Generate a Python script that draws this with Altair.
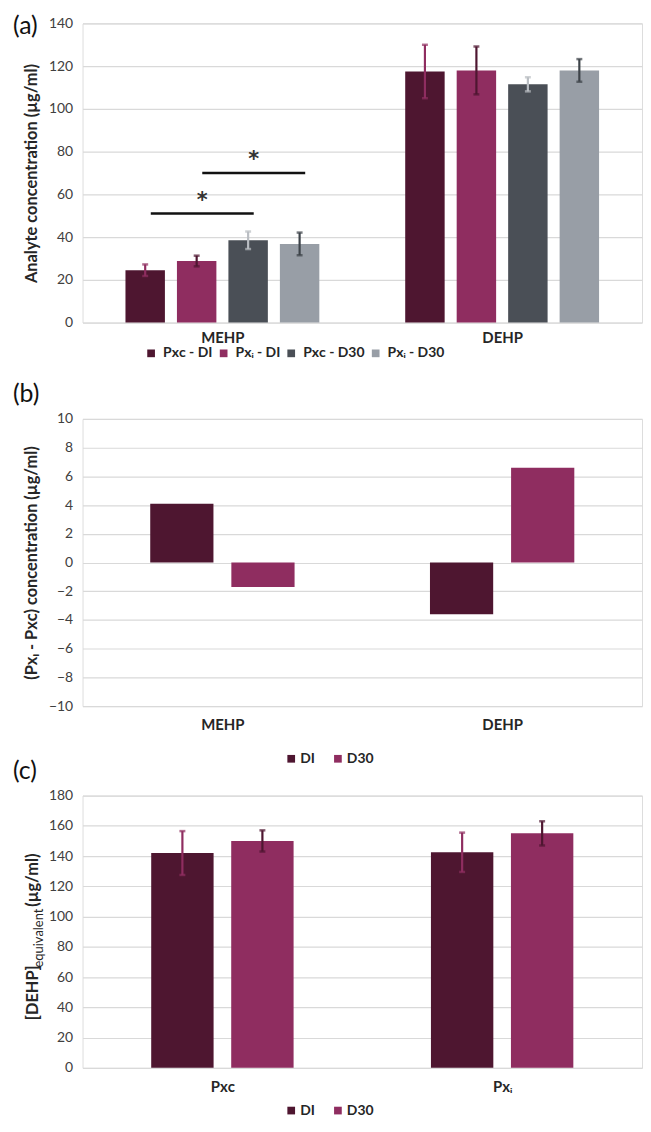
import altair as alt
import pandas as pd

FONT = "Lato"
TXT = "#262626"
GRID = "#d9d9d9"

# ---------------- Panel (a) data ----------------
analytes = ["MEHP", "DEHP"]
series_a = ["Pxᴄ - DI", "Pxᵢ - DI", "Pxᴄ - D30", "Pxᵢ - D30"]
mehp_mean = [24.5, 28.8, 38.5, 36.8]
mehp_err = [2.7, 2.5, 4.1, 5.3]
dehp_mean = [117.5, 118.0, 111.5, 118.0]
dehp_err = [12.5, 11.2, 3.3, 5.3]
colors_a = ["#4e1630", "#8f2d60", "#4a4f56", "#989ea6"]
errcolors_a = ["#8f2d60", "#4e1630", "#b9bdc2", "#3d4349"]
# significance brackets (MEHP group): from series index -> to series index
sig_from = [0, 1]
sig_to = [2, 3]
sig_y = [51, 70]
sig_text = ["*", "*"]

# ---------------- Panel (b) data ----------------
days = ["DI", "D30"]
diff_mehp = [4.1, -1.7]
diff_dehp = [-3.6, 6.6]
colors_b = ["#4e1630", "#8f2d60"]

# ---------------- Panel (c) data ----------------
groups_c = ["Pxᴄ", "Pxᵢ"]
c_di = [142.0, 142.5]
c_di_err = [14.5, 13.0]
c_d30 = [150.0, 155.0]
c_d30_err = [7.0, 8.0]
errcolors_c = ["#8f2d60", "#4e1630"]

W = 563
H_A, H_B, H_C = 301, 289, 274


def x_axis(labels, pad):
    return alt.Axis(values=[0.5, 1.5],
                    labelExpr=f"datum.value < 1 ? '{labels[0]}' : '{labels[1]}'",
                    ticks=False, domain=False, grid=False, labelFont=FONT,
                    labelFontSize=15, labelFontWeight="bold", labelColor=TXT,
                    labelPadding=pad)


def y_axis(values, title):
    return alt.Axis(values=values, grid=True, gridColor=GRID, gridWidth=1.2,
                    domain=False, ticks=False, labelFont=FONT, labelFontSize=14,
                    labelColor="#404040", labelPadding=10,
                    title=title, titleFont=FONT, titleFontSize=16.5,
                    titleFontWeight="bold", titleColor=TXT, titlePadding=9)


def legend(x, y, pad, off):
    return alt.Legend(orient="none", legendX=x, legendY=y,
                      direction="horizontal", title=None, symbolType="square",
                      symbolSize=60, symbolStrokeWidth=0, labelFont=FONT,
                      labelFontSize=14, labelFontWeight="bold", labelColor=TXT,
                      columnPadding=pad, labelOffset=off)


def letter(text, y):
    # panel letters, placed in pixels relative to the plot area above them
    return alt.Chart(pd.DataFrame(dict(t=[text]))).mark_text(
        align="left", baseline="alphabetic", fontSize=25, font=FONT,
        color="#111111").encode(text="t:N", x=alt.value(-70), y=alt.value(y))


def grouped(df, n, step, width):
    half = width / 2
    return (df.transform_calculate(xc=f"datum.g + 0.5 + (datum.s - {(n - 1) / 2}) * {step}")
              .transform_calculate(x0=f"datum.xc - {half}")
              .transform_calculate(x1=f"datum.xc + {half}"))


XS = alt.Scale(domain=[0, 2], nice=False, zero=False)

# ---------------- Panel (a) ----------------
rows = []
for g, (means, errs) in enumerate([(mehp_mean, mehp_err), (dehp_mean, dehp_err)]):
    for s, ser in enumerate(series_a):
        rows.append(dict(analyte=analytes[g], g=g, s=s, series=ser, value=means[s],
                         err=errs[s], errcolor=errcolors_a[s]))
df_a = pd.DataFrame(rows)

STEP_A, WID_A = 0.184, 0.141
xa_axis = x_axis(analytes, 8)
ya_axis = y_axis(list(range(0, 141, 20)), "Analyte concentration (µg/ml)")
YA = alt.Scale(domain=[0, 140], nice=False)

base_a = grouped(alt.Chart(df_a), 4, STEP_A, WID_A).transform_calculate(
    lo="datum.value - datum.err").transform_calculate(hi="datum.value + datum.err")

bars_a = base_a.mark_bar().encode(
    x=alt.X("x0:Q", scale=XS, axis=xa_axis, title=None),
    x2="x1:Q",
    y=alt.Y("value:Q", scale=YA, axis=ya_axis),
    y2=alt.datum(0),
    color=alt.Color("series:N", scale=alt.Scale(domain=series_a, range=colors_a),
                    legend=legend(62, 325, 4, 5)),
)
err_a = base_a.mark_rule(strokeWidth=2.2).encode(
    x=alt.X("xc:Q", scale=XS, axis=xa_axis, title=None),
    y=alt.Y("lo:Q", scale=YA, axis=ya_axis), y2="hi:Q",
    stroke=alt.Stroke("errcolor:N", scale=None),
)
caphi_a = base_a.mark_tick(orient="horizontal", size=6, thickness=2.5).encode(
    x=alt.X("xc:Q", scale=XS, axis=xa_axis, title=None),
    y=alt.Y("hi:Q", scale=YA, axis=ya_axis),
    fill=alt.Fill("errcolor:N", scale=None),
)
caplo_a = base_a.mark_tick(orient="horizontal", size=6, thickness=2.5).encode(
    x=alt.X("xc:Q", scale=XS, axis=xa_axis, title=None),
    y=alt.Y("lo:Q", scale=YA, axis=ya_axis),
    fill=alt.Fill("errcolor:N", scale=None),
)

df_sig = pd.DataFrame(dict(f=sig_from, t=sig_to, y=sig_y, label=sig_text))
sig_base = (alt.Chart(df_sig)
            .transform_calculate(xa=f"0.5 + (datum.f - 1.5) * {STEP_A} + 0.02")
            .transform_calculate(xb=f"0.5 + (datum.t - 1.5) * {STEP_A} + 0.02")
            .transform_calculate(xm="(datum.xa + datum.xb) / 2"))
sig_rule = sig_base.mark_rule(strokeWidth=2.5, color="#111111").encode(
    x=alt.X("xa:Q", scale=XS, axis=xa_axis, title=None), x2="xb:Q",
    y=alt.Y("y:Q", scale=YA, axis=ya_axis),
)
sig_star = sig_base.mark_text(fontSize=21, fontWeight="bold", font="DejaVu Sans",
                              color="#333333", dy=-3, baseline="bottom").encode(
    x=alt.X("xm:Q", scale=XS, axis=xa_axis, title=None),
    y=alt.Y("y:Q", scale=YA, axis=ya_axis),
    text="label:N",
)

chart_a = alt.layer(bars_a, err_a, caphi_a, caplo_a, sig_rule, sig_star,
                    letter("(a)", 11), letter("(b)", 381)).properties(width=W, height=H_A)

# ---------------- Panel (b) ----------------
rows = []
for g, vals in enumerate([diff_mehp, diff_dehp]):
    for s, d in enumerate(days):
        rows.append(dict(analyte=analytes[g], g=g, s=s, day=d, value=vals[s]))
df_b = pd.DataFrame(rows)
STEP_B, WID_B = 0.29, 0.226
xb_axis = x_axis(analytes, 12)
yb_axis = y_axis(list(range(-10, 11, 2)), "(Pxᵢ - Pxᴄ) concentration (µg/ml)")
YB = alt.Scale(domain=[-10, 10], nice=False)

bars_b = grouped(alt.Chart(df_b), 2, STEP_B, WID_B).mark_bar().encode(
    x=alt.X("x0:Q", scale=XS, axis=xb_axis, title=None),
    x2="x1:Q",
    y=alt.Y("value:Q", scale=YB, axis=yb_axis),
    y2=alt.datum(0),
    color=alt.Color("day:N", scale=alt.Scale(domain=days, range=colors_b),
                    legend=legend(203, 335, 16, 2)),
)
chart_b = alt.layer(bars_b, letter("(c)", 362)).properties(width=W, height=H_B)

# ---------------- Panel (c) ----------------
rows = []
for s, (vals, errs) in enumerate([(c_di, c_di_err), (c_d30, c_d30_err)]):
    for g, grp in enumerate(groups_c):
        rows.append(dict(group=grp, g=g, s=s, day=days[s], value=vals[g], err=errs[g],
                         errcolor=errcolors_c[s]))
df_c = pd.DataFrame(rows)
STEP_C, WID_C = 0.286, 0.223
xc_axis = x_axis(groups_c, 12)
yc_axis = y_axis(list(range(0, 181, 20)), None)
YC = alt.Scale(domain=[0, 180], nice=False)

base_c = grouped(alt.Chart(df_c), 2, STEP_C, WID_C).transform_calculate(
    lo="datum.value - datum.err").transform_calculate(hi="datum.value + datum.err")
bars_c = base_c.mark_bar().encode(
    x=alt.X("x0:Q", scale=XS, axis=xc_axis, title=None),
    x2="x1:Q",
    y=alt.Y("value:Q", scale=YC, axis=yc_axis),
    y2=alt.datum(0),
    color=alt.Color("day:N", scale=alt.Scale(domain=days, range=colors_b),
                    legend=legend(203, 310, 16, 2)),
)
err_c = base_c.mark_rule(strokeWidth=2.2).encode(
    x=alt.X("xc:Q", scale=XS, axis=xc_axis, title=None),
    y=alt.Y("lo:Q", scale=YC, axis=yc_axis), y2="hi:Q",
    stroke=alt.Stroke("errcolor:N", scale=None),
)
caphi_c = base_c.mark_tick(orient="horizontal", size=6, thickness=2.5).encode(
    x=alt.X("xc:Q", scale=XS, axis=xc_axis, title=None),
    y=alt.Y("hi:Q", scale=YC, axis=yc_axis),
    fill=alt.Fill("errcolor:N", scale=None),
)
caplo_c = base_c.mark_tick(orient="horizontal", size=6, thickness=2.5).encode(
    x=alt.X("xc:Q", scale=XS, axis=xc_axis, title=None),
    y=alt.Y("lo:Q", scale=YC, axis=yc_axis),
    fill=alt.Fill("errcolor:N", scale=None),
)

# y-axis title with a real subscript, built from three text pieces
title_parts = pd.DataFrame(dict(t=["[DEHP]", "equivalent", "(µg/ml)"]))


def title_piece(txt, size, weight, x, y):
    return alt.Chart(title_parts).transform_filter(f"datum.t == '{txt}'").mark_text(
        angle=270, align="left", baseline="middle", fontSize=size, fontWeight=weight,
        font=FONT, color=TXT).encode(text="t:N", x=alt.value(x), y=alt.value(y))


t1 = title_piece("[DEHP]", 16.5, "bold", -50, 226)
t2 = title_piece("equivalent", 13, "normal", -44, 173)
t3 = title_piece("(µg/ml)", 16.5, "bold", -50, 112)

chart_c = alt.layer(bars_c, err_c, caphi_c, caplo_c, t1, t2, t3).properties(
    width=W, height=H_C)

chart = alt.vconcat(chart_a, chart_b, chart_c, spacing=3).resolve_scale(
    color="independent"
).properties(
    padding={"left": 4, "top": 2, "right": 0, "bottom": 2}
).configure_view(stroke=None).configure(background="white")

chart.save("out.html", embed_options={"renderer": "svg", "actions": False})
